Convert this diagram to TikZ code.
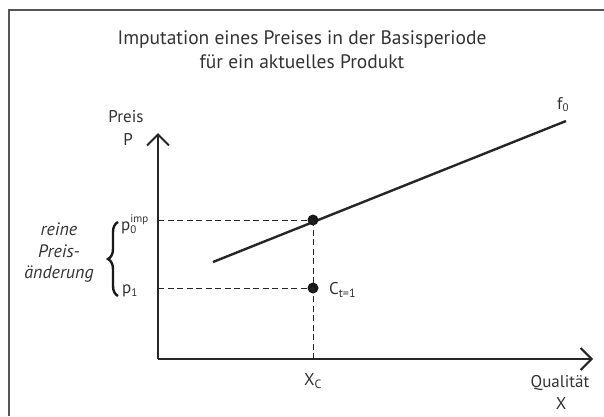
\documentclass[tikz,border=0pt]{standalone}
\usepackage{fontspec}
\setmainfont{PT Sans}
\usetikzlibrary{arrows.meta,decorations.pathreplacing}
\definecolor{txt}{HTML}{333333}
\definecolor{frm}{HTML}{555555}
\begin{document}
\begin{tikzpicture}[x=1pt,y=-1pt,
  lbl/.style={text=txt,font=\fontsize{17}{19}\selectfont,inner sep=0pt},
  axisline/.style={line width=2pt,draw=black!85,-{Straight Barb[length=11pt,width=22pt,line width=2pt]}},
  helper/.style={draw=black!85,line width=0.9pt,dash pattern=on 6pt off 3.5pt},
  pt/.style={circle,fill=black!90,inner sep=0pt,minimum size=11pt}]
\useasboundingbox (0,0) rectangle (604,416);
\fill[white] (0,0) rectangle (604,416);
% frame
\coordinate (ftl) at (9,10);
\coordinate (ftr) at (604,10);
\coordinate (fbl) at (9,416);
\draw[frm,line width=1.6pt] (fbl) -- (ftl) -- (ftr);
% title
\node[lbl,font=\fontsize{19.5}{24}\selectfont,align=center] (title) at (302,50)
  {Imputation eines Preises in der Basisperiode\\für ein aktuelles Produkt};
% axes
\coordinate (O) at (158,359);
\coordinate (ytip) at (158,133);
\coordinate (xtip) at (593,359);
\draw[axisline] (O) -- (ytip);
\draw[axisline] (O) -- (xtip);
\node[lbl] (preis) at (126,117) {Preis};
\node[lbl] (P) at (128,139) {P};
\node[lbl] (qual) at (560,383) {Qualität};
\node[lbl] (X) at (561,404) {X};
% f0 line
\coordinate (fs) at (213,262);
\coordinate (fe) at (566,121);
\draw[line width=2.4pt,draw=black!85] (fs) -- (fe);
\node[lbl,anchor=south west] (f0) at (557,112) {f\textsubscript{\fontsize{11}{12}\selectfont 0}};
% points
\node[pt] (A) at (313,220) {};
\node[pt] (C) at (313,288) {};
\coordinate (ya) at (158,220);
\coordinate (yc) at (158,288);
\coordinate (xc) at (313,359);
\draw[helper] (ya) -- (A.center);
\draw[helper] (yc) -- (C.center);
\draw[helper] (A.center) -- (xc);
\node[lbl,anchor=west] (Clab) at (329,290) {C\textsubscript{\fontsize{12}{13}\selectfont t=1}};
\node[lbl] (xclab) at (313,381) {X\textsubscript{\fontsize{12}{13}\selectfont C}};
% y labels
\node[lbl,anchor=west] (p0) at (121,224) {p$^{\textrm{\fontsize{11}{12}\selectfont imp}}_{\textrm{\fontsize{11}{12}\selectfont 0}}$};
\node[lbl,anchor=west] (p1) at (122,291) {p\textsubscript{\fontsize{11}{12}\selectfont 1}};
% brace
\coordinate (bb) at (118,296);
\coordinate (bt) at (118,222);
\draw[line width=2.4pt,draw=black!90,decorate,decoration={brace,amplitude=10pt,aspect=0.5}] (bb) -- (bt);
\node[lbl,font=\itshape\fontsize{18}{21.5}\selectfont,align=center] (reine) at (59,253)
  {reine\\Preis-\\änderung};
\end{tikzpicture}
\end{document}
